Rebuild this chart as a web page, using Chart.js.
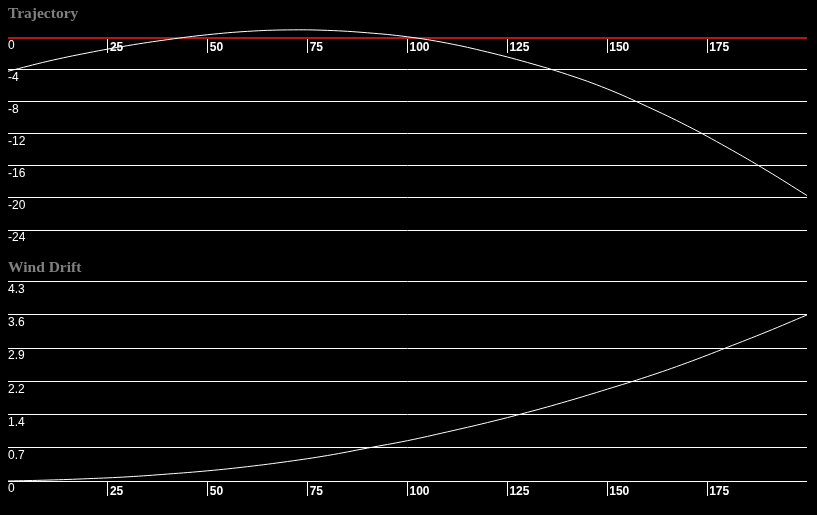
<!DOCTYPE html>
<html>
<head>
<meta charset="utf-8">
<script src="https://cdn.jsdelivr.net/npm/chart.js@4.4.1/dist/chart.umd.min.js"></script>
<style>
  html, body { margin: 0; padding: 0; background: #000; }
  .box { position: absolute; left: 0; width: 817px; }
  #top { top: 0; height: 258px; }
  #bot { top: 258px; height: 257px; }
</style>
</head>
<body>
<div class="box" id="top"><canvas id="trajectory"></canvas></div>
<div class="box" id="bot"><canvas id="drift"></canvas></div>
<script>
// distance (yards) and readings
const distances = [0, 10, 20, 30, 40, 50, 60, 70, 80, 90, 100, 110, 120, 130, 140, 150, 160, 170, 180, 190, 200];
const trajectory = [-4.2, -2.95, -1.9, -1.0, -0.25, 0.36, 0.78, 0.96, 0.9, 0.6, 0.1, -0.7, -1.8, -3.1, -4.6, -6.4, -8.6, -11.0, -13.7, -16.6, -19.7];
const windDrift = [0, 0.02, 0.05, 0.09, 0.15, 0.22, 0.31, 0.42, 0.55, 0.71, 0.87, 1.06, 1.26, 1.48, 1.72, 1.98, 2.25, 2.55, 2.88, 3.22, 3.58];

const distanceTicks = [25, 50, 75, 100, 125, 150, 175];
const trajectoryTicks = [-24, -20, -16, -12, -8, -4, 0];
const trajectoryTickLabels = ["-24", "-20", "-16", "-12", "-8", "-4", "0"];
const driftTicks = [0, 0.7167, 1.4333, 2.15, 2.8667, 3.5833, 4.3];
const driftTickLabels = ["0", "0.7", "1.4", "2.2", "2.9", "3.6", "4.3"];

const sans = "'Liberation Sans', Arial, sans-serif";
const serif = "'Liberation Serif', 'Times New Roman', serif";

function makeChart(id, title, values, yTicks, yLabels, opts) {
    const ctx = document.getElementById(id).getContext("2d");
    const isRedZero = (c) => opts.redZero && c.tick && c.tick.value === 0;
    return new Chart(ctx, {
        type: "line",
        data: {
            datasets: [{
                data: distances.map((d, i) => ({ x: d, y: values[i] })),
                borderColor: "#ffffff",
                borderWidth: 1,
                pointRadius: 0,
                tension: 0.4,
                fill: false,
                clip: false,
            }],
        },
        options: {
            responsive: true,
            maintainAspectRatio: false,
            animation: false,
            layout: { padding: opts.padding },
            plugins: {
                legend: { display: false },
                tooltip: { enabled: false },
                title: {
                    display: true,
                    text: title,
                    align: "start",
                    color: "#808080",
                    font: { family: serif, size: 15.5, weight: "bold" },
                    padding: opts.titlePadding,
                },
            },
            scales: {
                x: {
                    type: "linear",
                    min: 0,
                    max: 200,
                    position: { y: 0 },
                    afterBuildTicks: (axis) => {
                        axis.ticks = distanceTicks.map((v) => ({ value: v }));
                    },
                    border: { display: false },
                    grid: { drawOnChartArea: false, drawTicks: true, tickLength: 15, color: "#ffffff" },
                    ticks: {
                        color: "#ffffff",
                        font: { family: sans, size: 12, weight: "bold" },
                        align: "start",
                        padding: -12,
                        labelOffset: 2,
                        autoSkip: false,
                        maxRotation: 0,
                    },
                },
                y: {
                    type: "linear",
                    min: yTicks[0],
                    max: yTicks[yTicks.length - 1],
                    afterBuildTicks: (axis) => {
                        axis.ticks = yTicks.map((v) => ({ value: v }));
                    },
                    border: { display: false },
                    grid: {
                        drawTicks: false,
                        color: (c) => (isRedZero(c) ? "#b01818" : "#ffffff"),
                        lineWidth: (c) => (isRedZero(c) ? 2 : 1),
                    },
                    ticks: {
                        mirror: true,
                        padding: 0,
                        labelOffset: 8,
                        color: "#ffffff",
                        font: { family: sans, size: 12 },
                        autoSkip: false,
                        callback: (v) => yLabels[yTicks.indexOf(v)],
                    },
                },
            },
        },
    });
}

makeChart("trajectory", "Trajectory", trajectory, trajectoryTicks, trajectoryTickLabels, {
    padding: { left: 8, right: 10, top: 0, bottom: 28 },
    titlePadding: { top: 5, bottom: 14 },
    redZero: true,
});

makeChart("drift", "Wind Drift", windDrift, driftTicks, driftTickLabels, {
    padding: { left: 8, right: 10, top: 0, bottom: 34 },
    titlePadding: { top: 1, bottom: 4 },
    redZero: false,
});
</script>
</body>
</html>
